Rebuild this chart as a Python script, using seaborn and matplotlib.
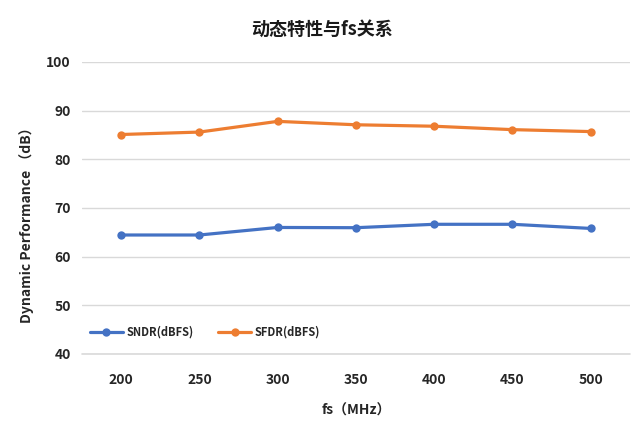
import matplotlib
matplotlib.use("Agg")
import matplotlib.pyplot as plt
import seaborn as sns
import pandas as pd

fs = [200, 250, 300, 350, 400, 450, 500]
sndr = [64.45, 64.45, 66.0, 65.95, 66.65, 66.65, 65.8]
sfdr = [85.1, 85.6, 87.8, 87.1, 86.8, 86.1, 85.7]
series_names = ["SNDR(dBFS)", "SFDR(dBFS)"]
title = "动态特性与fs关系"
xlabel = "fs（MHz）"
ylabel = "Dynamic Performance （dB）"
yticks = [40, 50, 60, 70, 80, 90, 100]

sns.set_theme(style="white")
plt.rcParams['font.family'] = ['Noto Sans CJK SC', 'DejaVu Sans']

df = pd.DataFrame({
    "fs": fs * 2,
    "value": sndr + sfdr,
    "series": [series_names[0]] * len(fs) + [series_names[1]] * len(fs),
})

fig = plt.figure(figsize=(6.44, 4.46), dpi=100)
ax = fig.add_axes([0.1273, 0.2063, 0.8507, 0.6547])

sns.lineplot(data=df, x="fs", y="value", hue="series",
             palette={series_names[0]: "#4472C4", series_names[1]: "#ED7D31"},
             marker="o", markersize=6, markeredgewidth=0, linewidth=2.3, ax=ax, zorder=3)

ax.set_xlim(175, 525)
ax.set_ylim(40, 100)
ax.set_xticks(fs)
ax.set_xticklabels([str(v) for v in fs], fontsize=10, fontweight="bold", color="#262626")
ax.set_yticks(yticks)
ax.set_yticklabels([str(v) for v in yticks], fontsize=10, fontweight="bold", color="#262626")
ax.tick_params(axis="both", length=0, pad=8)
ax.tick_params(axis="x", pad=14)
ax.yaxis.grid(True, color="#D9D9D9", linewidth=1)
ax.xaxis.grid(False)
ax.axhline(yticks[0], color="#D9D9D9", linewidth=1.2, clip_on=False, zorder=1)
ax.set_axisbelow(True)
for s in ax.spines.values():
    s.set_visible(False)

ax.set_xlabel(xlabel, fontsize=10, fontweight="bold", labelpad=12, color="#262626")
ax.set_ylabel(ylabel, fontsize=10, fontweight="bold", color="#262626")
ax.yaxis.set_label_coords(-0.087, 0.452)
fig.text(0.5, 0.935, title, ha="center", va="center", fontsize=13, fontweight="bold", color="#1a1a1a")

leg = ax.legend(loc="lower left", bbox_to_anchor=(0.0, 0.025), ncol=2, frameon=False,
                prop={"size": 8, "weight": "semibold"}, handlelength=3, columnspacing=2.2,
                handletextpad=0.3, borderaxespad=0.3)
for t in leg.get_texts():
    t.set_color("#262626")

fig.savefig("out.png", dpi=100, facecolor="white")
